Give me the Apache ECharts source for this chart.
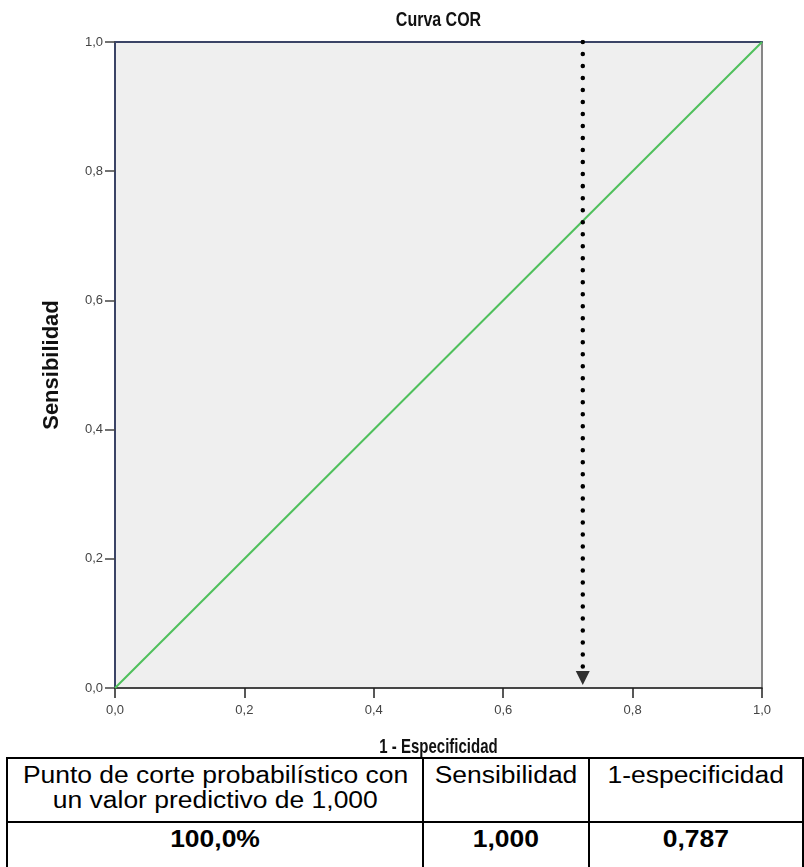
<!DOCTYPE html>
<html>
<head>
<meta charset="utf-8">
<script src="https://cdn.jsdelivr.net/npm/echarts@6/dist/echarts.min.js"></script>
<style>
  html, body { margin: 0; padding: 0; background: #fff; }
  #chart { position: absolute; left: 0; top: 0; width: 804px; height: 867px; }
  #tbl { position: absolute; left: 6px; top: 757px; border-collapse: collapse; background: #fff;
         font-family: 'Liberation Sans', Arial, sans-serif; font-size: 23px; color: #000; }
  #tbl td { border: 2px solid #000; padding: 4px 0 0 0; vertical-align: top; text-align: center; line-height: 25px; }
  #tbl span { display: inline-block; transform: scaleX(1.15); transform-origin: center; white-space: nowrap; }
  #tbl .b { font-weight: bold; }
</style>
</head>
<body>
<div id="chart"></div>
<table id="tbl"></table>
<script>
// ---- data ----
const chartTitle = 'Curva COR';
const xAxisTitle = '1 - Especificidad';
const yAxisTitle = 'Sensibilidad';
const rocX = [0.0, 1.0];
const rocY = [0.0, 1.0];
const cutoffX = 0.723;
const tableHeader = ['Punto de corte probabilístico con\nun valor predictivo de 1,000', 'Sensibilidad', '1-especificidad'];
const tableRow = ['100,0%', '1,000', '0,787'];

// ---- table ----
const colW = [417, 165, 214];
const tbl = document.getElementById('tbl');
function esc(s) { return s.replace(/&/g, '&amp;').replace(/</g, '&lt;'); }
let html = '<tr style="height:64px">';
tableHeader.forEach((t, i) => {
  html += '<td style="width:' + colW[i] + 'px">' + t.split('\n').map(l => '<span>' + esc(l) + '</span>').join('<br>') + '</td>';
});
html += '</tr><tr style="height:60px">';
tableRow.forEach((t, i) => {
  html += '<td style="width:' + colW[i] + 'px"><span class="b">' + esc(t) + '</span></td>';
});
html += '</tr>';
tbl.innerHTML = html;

// ---- chart ----
const chart = echarts.init(document.getElementById('chart'), null, { renderer: 'canvas' });
const fmt = v => v.toFixed(1).replace('.', ',');
const FONT = "'Liberation Sans', Arial, sans-serif";
const gridL = 115, gridT = 42, gridW = 647, gridH = 646;
const cx = gridL + gridW / 2;

const rocData = rocX.map((x, i) => [x, rocY[i]]);

chart.setOption({
  animation: false,
  graphic: [{
    type: 'text', x: cx, y: 10, scaleY: 1.3,
    style: { text: chartTitle, textAlign: 'center', textVerticalAlign: 'top',
             font: "bold 16px 'Liberation Sans', Arial, sans-serif", fill: '#111' }
  }, {
    type: 'text', x: cx, y: 738, scaleY: 1.3,
    style: { text: xAxisTitle, textAlign: 'center', textVerticalAlign: 'top',
             font: "bold 15px 'Liberation Sans', Arial, sans-serif", fill: '#111' }
  }],
  grid: {
    left: gridL, top: gridT, width: gridW, height: gridH,
    show: true, backgroundColor: '#efefef', borderColor: '#777', borderWidth: 1
  },
  xAxis: [{
    type: 'value', min: 0, max: 1, interval: 0.2,
    axisLine: { show: true, onZero: false, lineStyle: { color: '#222', width: 1.5 } },
    axisTick: { show: true, length: 10, lineStyle: { color: '#222', width: 1.5 } },
    axisLabel: { formatter: fmt, margin: 16, fontFamily: FONT, fontSize: 13, color: '#444' },
    splitLine: { show: false }
  }, {
    type: 'value', min: 0, max: 1, position: 'top',
    axisLine: { show: true, onZero: false, lineStyle: { color: '#3b4466', width: 2 } },
    axisTick: { show: false }, axisLabel: { show: false }, splitLine: { show: false }
  }],
  yAxis: [{
    type: 'value', min: 0, max: 1, interval: 0.2,
    name: yAxisTitle, nameLocation: 'middle', nameGap: 52,
    nameTextStyle: { fontFamily: FONT, fontSize: 22, fontWeight: 'bold', color: '#111' },
    axisLine: { show: true, onZero: false, lineStyle: { color: '#3b4466', width: 2 } },
    axisTick: { show: true, length: 10, lineStyle: { color: '#444', width: 1.5 } },
    axisLabel: { formatter: fmt, margin: 12, fontFamily: FONT, fontSize: 13, color: '#444' },
    splitLine: { show: false }
  }, {
    type: 'value', min: 0, max: 1, position: 'right',
    axisLine: { show: true, onZero: false, lineStyle: { color: '#777', width: 1.5 } },
    axisTick: { show: false }, axisLabel: { show: false }, splitLine: { show: false }
  }],
  series: [{
    type: 'line', data: rocData, symbol: 'none',
    lineStyle: { color: '#4fc05c', width: 2 }, z: 3
  }, {
    type: 'line', data: [[cutoffX, 1], [cutoffX, 0.03]], symbol: 'none',
    lineStyle: { color: '#000', width: 4.5, type: [0.01, 12], cap: 'round' }, z: 4
  }, {
    type: 'scatter', data: [[cutoffX, 0.0155]], symbol: 'triangle', symbolRotate: 180,
    symbolSize: [14, 14], itemStyle: { color: '#000' }, z: 5
  }]
});
</script>
</body>
</html>
